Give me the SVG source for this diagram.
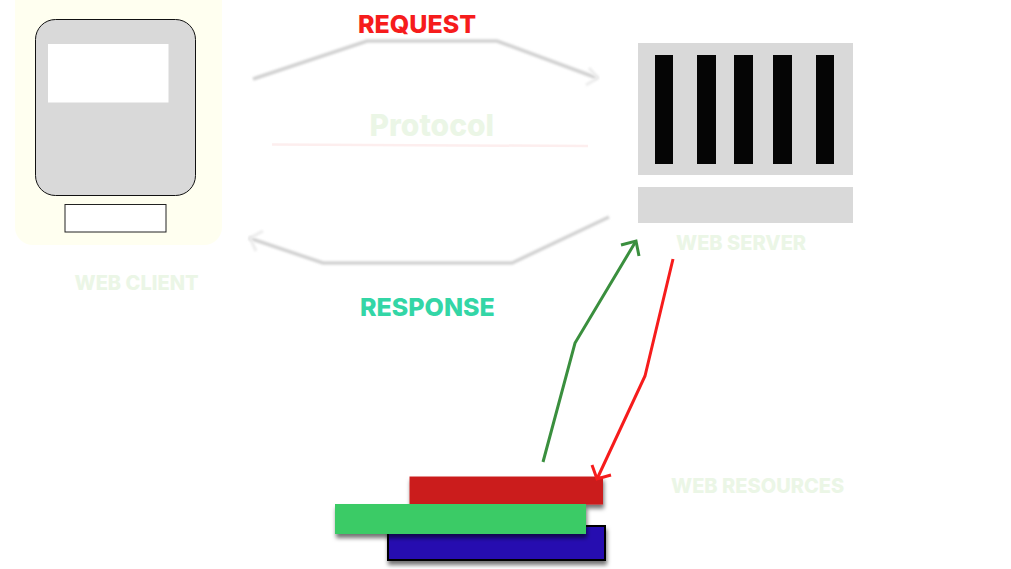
<svg xmlns="http://www.w3.org/2000/svg" width="1011" height="569" viewBox="0 0 1011 569">
<style>
text{font-family:Inter,"Liberation Sans",sans-serif;font-weight:800}
.pale{fill:#ebf6e6}
.gray{fill:#d9d9d9}
.bar{fill:#050505}
.soft{fill:none;stroke:#d2d2d2;stroke-width:3.500;filter:url(#halo)}
.softhead{fill:none;stroke:#ececec;stroke-width:3;filter:url(#halo)}
.line{fill:none;stroke-width:3}
.stack{filter:url(#shadow)}
</style>
<defs>
<filter id="shadow" x="-10%" y="-30%" width="120%" height="170%"><feDropShadow dx="1" dy="4" stdDeviation="2" flood-color="#000" flood-opacity=".55"/></filter>
<filter id="halo" x="-10%" y="-30%" width="120%" height="160%"><feGaussianBlur stdDeviation="1"/></filter>
</defs>
<g id="web-client">
<rect x="15" y="-20" width="207" height="265" rx="18" fill="#fffff0"/>
<rect x="35.500" y="19.500" width="160" height="176" rx="20" fill="#d9d9d9" stroke="#111" stroke-width="1"/>
<rect x="48" y="44" width="120.500" height="58.500" fill="#fff"/>
<rect x="65" y="204.500" width="101" height="27.500" fill="#fff" stroke="#222" stroke-width="1"/>
<text class="pale" x="74.500" y="290" font-size="20">WEB CLIENT</text>
</g>
<g id="web-server">
<rect class="gray" x="638" y="43" width="215" height="132"/>
<rect class="bar" x="655" y="55" width="18" height="109"/>
<rect class="bar" x="697" y="55" width="19" height="109"/>
<rect class="bar" x="734" y="55" width="19" height="109"/>
<rect class="bar" x="773" y="55" width="19" height="109"/>
<rect class="bar" x="816" y="55" width="18" height="109"/>
<rect class="gray" x="638" y="187" width="215" height="36"/>
<text class="pale" x="676" y="250" font-size="20">WEB SERVER</text>
</g>
<g id="web-resources">
<rect class="stack" x="388" y="526" width="217" height="34" fill="#2711b0" stroke="#000" stroke-width="2"/>
<rect class="stack" x="409.500" y="476.500" width="193.500" height="28" fill="#cb1f1f"/>
<rect class="stack" x="335" y="504" width="251" height="30" fill="#3bcb66"/>
<text class="pale" x="671" y="493" font-size="20">WEB RESOURCES</text>
</g>
<g id="protocol">
<text class="pale" x="369.500" y="136" font-size="30">Protocol</text>
</g>
<g id="request-label"><text x="358" y="33" font-size="25" fill="#f61c1c">REQUEST</text></g>
<g id="response-label"><text x="360" y="316" font-size="25" fill="#33d6a6">RESPONSE</text></g>
<g id="connectors">
<path d="M272 144.500 588 146" fill="none" stroke="#fdeeee" stroke-width="2.500"/>
<path class="soft" d="M253 79 367 41H497L597 78"/>
<path class="softhead" d="M589 68 598 78 586 85"/>
<path class="soft" d="M609 217 512 263H323L249 238"/>
<path class="softhead" d="M263 231 250 238 256 251"/>
<path class="line" stroke="#3a8f3e" d="M543 462 575 343 636 241"/>
<path class="line" stroke="#3a8f3e" d="M621 245 636 241 639 256"/>
<path class="line" stroke="#f61c1c" d="M673 259 645 376 597 479"/>
<path class="line" stroke="#f61c1c" d="M592 465 597 479 611 475"/>
</g>
</svg>
